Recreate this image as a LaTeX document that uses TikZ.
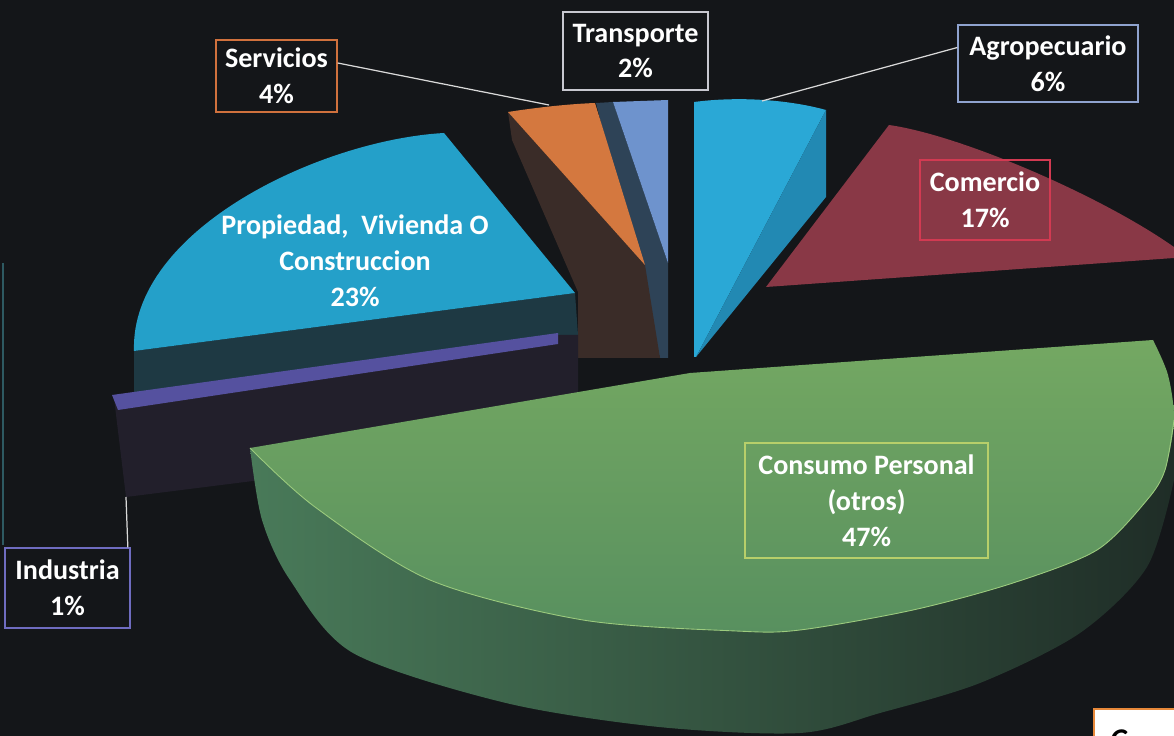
\documentclass[tikz,border=0pt]{standalone}
\usepackage{fontspec}
\setmainfont{Carlito}

\definecolor{bgdark}{HTML}{141619}
\definecolor{frameline}{HTML}{2E5A62}
\definecolor{comercio}{HTML}{893846}
\definecolor{agrotop}{HTML}{2AA8D6}
\definecolor{agroside}{HTML}{2289B3}
\definecolor{transtop}{HTML}{6E93CD}
\definecolor{transside}{HTML}{2E4357}
\definecolor{servtop}{HTML}{D4783F}
\definecolor{servside}{HTML}{3A2C28}
\definecolor{proptop}{HTML}{24A0C9}
\definecolor{propside}{HTML}{1E3943}
\definecolor{indtop}{HTML}{55519F}
\definecolor{indside}{HTML}{221F2B}
\definecolor{constopA}{HTML}{74A862}
\definecolor{constopB}{HTML}{58905F}
\definecolor{conssideA}{HTML}{497A59}
\definecolor{conssideB}{HTML}{1F2D27}
\definecolor{consrim}{HTML}{9CCB7E}
% box borders
\definecolor{servline}{HTML}{D0713D}
\definecolor{transline}{HTML}{C8C8D0}
\definecolor{agroline}{HTML}{8FA3CF}
\definecolor{comline}{HTML}{D23A52}
\definecolor{consline}{HTML}{B7CF6A}
\definecolor{indline}{HTML}{6F6CC0}
\definecolor{cornerline}{HTML}{E8893A}

\tikzset{
  lbl/.style={draw=#1, line width=0.8pt, text=white, align=center, inner sep=0pt,
    font=\bfseries\fontsize{16}{20.4}\selectfont},
  leader/.style={draw=white!85!black, line width=0.7pt},
}

\begin{document}
\begin{tikzpicture}[x=0.02cm, y=-0.02cm]
\useasboundingbox (0,0) rectangle (1174,736);
\fill[bgdark] (0,0) rectangle (1174,736);

% thin line on the left border
\draw[frameline, line width=1.2pt] (3,263) -- (3,545);

% Comercio
\fill[comercio] (766,287) -- (889,125) .. controls (960,135) and (1100,195) .. (1174,247)
  -- (1174,258) -- cycle;

% Agropecuario
\fill[agrotop] (694,102) .. controls (740,96) and (790,100) .. (826,110) -- (696,357) -- (694,357) -- cycle;
\fill[agroside] (826,110) -- (826,197) -- (696,357) -- cycle;

% Transporte
\fill[transside] (596,103) -- (613,102) -- (668,263) -- (668,358) -- (660,358) -- cycle;
\fill[transtop] (613,102) -- (668,100) -- (668,263) -- cycle;

% Servicios
\fill[servside] (508,112) -- (645,265) -- (660,358) -- (578,358) -- (578,292) -- (512,140) -- cycle;
\fill[servtop] (508,112) .. controls (540,107) and (570,104) .. (595,103) -- (645,265) -- cycle;

% Propiedad, Vivienda O Construccion
\fill[propside] (134,351) -- (575,293) -- (578,335) -- (134,393) -- cycle;
\fill[proptop] (444,133) .. controls (320,140) and (130,230) .. (134,351) -- (575,293) -- cycle;

% Industria
\fill[indside] (114,398) -- (560,335) -- (578,335) -- (578,440) -- (126,497) -- cycle;
\fill[indtop] (112,395) -- (558,333) -- (558,344) -- (118,410) -- cycle;

% Consumo Personal
\shade[left color=conssideA, right color=conssideB]
  plot[smooth] coordinates {(250,448) (262,520) (290,580) (353,653) (506,703) (659,727) (800,733)
    (880,713) (980,683) (1080,633) (1147,567) (1174,480)}
  -- (1174,420)
  -- plot[smooth] coordinates {(1174,420) (1165,470) (1147,500) (1097,550) (1013,583) (913,610)
    (800,630) (736,631) (583,620) (430,580) (315,507) (250,448)} -- cycle;
\shade[top color=constopA, bottom color=constopB]
  (250,448) -- (690,373) -- (1153,340)
  -- plot[smooth] coordinates {(1153,340) (1168,375) (1174,420) (1165,470) (1147,500) (1097,550)
    (1013,583) (913,610) (800,630) (736,631) (583,620) (430,580) (315,507) (250,448)} -- cycle;
\draw[consrim, line width=0.5pt]
  plot[smooth] coordinates {(1174,420) (1165,470) (1147,500) (1097,550) (1013,583) (913,610)
    (800,630) (736,631) (583,620) (430,580) (315,507) (250,448)};

% labels
\node[lbl=servline, minimum width=2.42cm, minimum height=1.44cm] (serv) at (276.5,76) {Servicios\\4\%};
\node[lbl=transline, minimum width=2.9cm, minimum height=1.56cm] (trans) at (635.5,51) {Transporte\\2\%};
\node[lbl=agroline, minimum width=3.6cm, minimum height=1.54cm] (agro) at (1048,63.5) {Agropecuario\\6\%};
\node[lbl=comline, minimum width=2.6cm, minimum height=1.6cm] (com) at (985,200) {Comercio\\17\%};
\node[lbl=consline, minimum width=4.86cm, minimum height=2.3cm] (cons) at (866.5,500.5) {Consumo Personal\\(otros)\\47\%};
\node[lbl=indline, minimum width=2.5cm, minimum height=1.6cm] (ind) at (67.5,588) {Industria\\1\%};
\node[lbl=none, draw=none] (prop) at (355,261) {Propiedad,\ \ Vivienda O\\Construccion\\23\%};

% leader lines
\coordinate (servTip) at (549,105);
\coordinate (agroTip) at (762,101);
\coordinate (indTip) at (126,497);
\draw[leader] (serv.12) -- (servTip);
\draw[leader] (agro.170) -- (agroTip);
\draw[leader] (ind.34) -- (indTip);

% cut off box in the corner
\node[draw=cornerline, fill=white, line width=1pt, minimum width=2cm, minimum height=1cm,
  anchor=north west] (corner) at (1093,708) {};
\node[anchor=base west, font=\bfseries\itshape\fontsize{18}{20}\selectfont] (cornertext) at (1104,750) {C};
\end{tikzpicture}
\end{document}
